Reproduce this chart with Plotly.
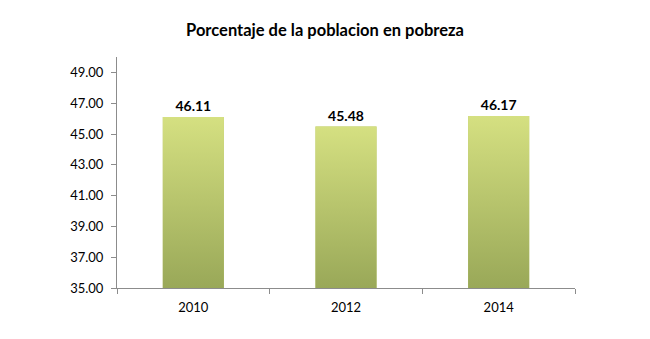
import plotly.graph_objects as go

years = ["2010", "2012", "2014"]
values = [46.11, 45.48, 46.17]
y_ticks = [35, 37, 39, 41, 43, 45, 47, 49]
title = "Porcentaje de la poblacion en pobreza"

x_pos = list(range(len(years)))
bar_width = 0.4
y_min, y_max = 35, 50
top_color = "#d5e081"
bottom_color = "#99a858"

fig = go.Figure()

# bars (solid base)
fig.add_trace(go.Bar(
    x=x_pos, y=values, width=bar_width,
    marker=dict(color="#b9c66c", line=dict(width=0)),
    text=[f"{v:.2f}" for v in values], textposition="outside",
    textfont=dict(family="Lato, Carlito, Arial", size=14, color="#000000", weight="bold"),
    cliponaxis=False, hoverinfo="skip", showlegend=False,
))

# gradient overlay for each bar
for xi, v in zip(x_pos, values):
    fig.add_trace(go.Scatter(
        x=[xi - bar_width / 2, xi + bar_width / 2, xi + bar_width / 2, xi - bar_width / 2, xi - bar_width / 2],
        y=[y_min, y_min, v, v, y_min],
        mode="lines", line=dict(width=0), fill="toself",
        fillgradient=dict(type="vertical", colorscale=[[0, bottom_color], [1, top_color]]),
        hoverinfo="skip", showlegend=False,
    ))

fig.update_layout(
    width=650, height=339,
    margin=dict(l=117, r=75, t=57, b=51),
    paper_bgcolor="white", plot_bgcolor="white",
    title=dict(text="<b>" + title + "</b>", x=0.5, xanchor="center", y=0.91, yanchor="middle",
               font=dict(family="Lato, Carlito, Arial", size=16.5, color="#000000")),
    xaxis=dict(
        range=[-0.5, 2.5], tickvals=x_pos, ticktext=years, ticks="",
        showgrid=False, zeroline=False,
        showline=True, linecolor="#8c8c8c", linewidth=1,
        ticklabelstandoff=7,
        tickfont=dict(family="Lato, Carlito, Arial", size=13, color="#000000"),
        minor=dict(tickvals=[-0.5, 0.5, 1.5, 2.5], ticks="outside", ticklen=5, tickcolor="#8c8c8c", showgrid=False),
    ),
    yaxis=dict(
        range=[y_min, y_max], tickvals=y_ticks, ticktext=[f"{t:.2f}" for t in y_ticks],
        ticks="outside", ticklen=5, tickcolor="#8c8c8c",
        showgrid=False, zeroline=False,
        showline=True, linecolor="#8c8c8c", linewidth=1,
        ticklabelstandoff=5,
        tickfont=dict(family="Lato, Carlito, Arial", size=13, color="#000000"),
    ),
)

fig.write_html("out.html")
